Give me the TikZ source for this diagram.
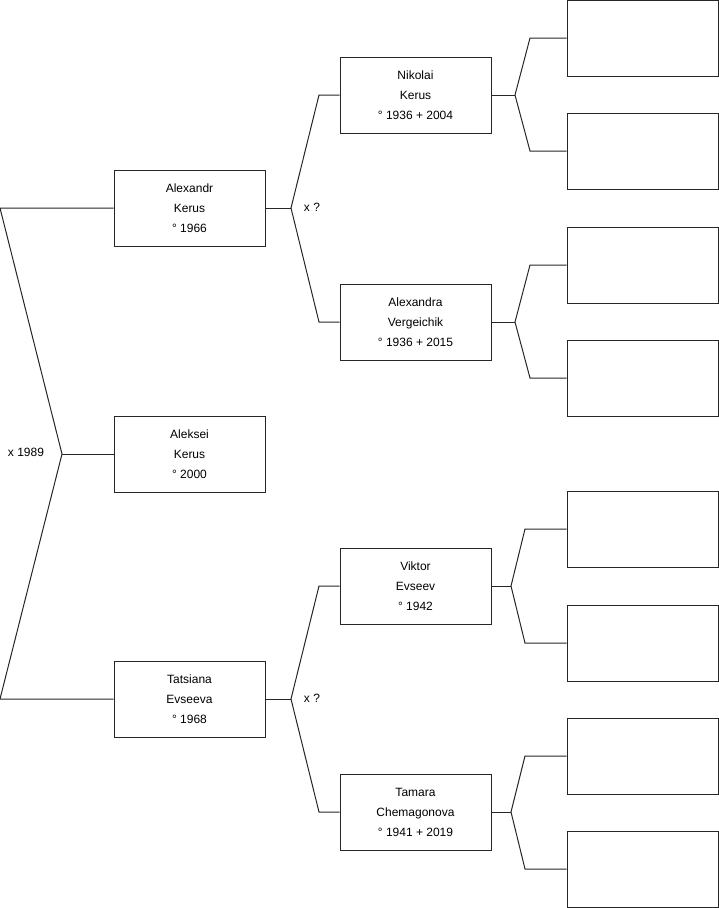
\documentclass[tikz,border=0pt]{standalone}
\usepackage{fontspec}
\setmainfont{Liberation Sans}
\usetikzlibrary{positioning, calc}

\begin{document}
\begin{tikzpicture}[
    x=1pt, y=-1pt,
    line width=1pt,
    font=\fontsize{12}{20}\selectfont,
    % Person Box Style
    person/.style={
        rectangle, draw=black!85, fill=white, text=black,
        minimum width=151pt, minimum height=76pt, inner sep=0pt, align=center
    },
    % Marriage Annotation Style
    marriage/.style={
        inner sep=0pt, text=black
    },
    % Connector Style
    link/.style={draw=black!85, line join=miter}
]
    \useasboundingbox (0,0) rectangle (719,908);

    % =========================================================================
    % Generation 1: Children
    % =========================================================================
    \node[person] (alexandr) at (189.5, 208) {Alexandr\\Kerus\\° 1966};
    \node[person] (aleksei)  at (189.5, 454) {Aleksei\\Kerus\\° 2000};
    \node[person] (tatsiana) at (189.5, 699) {Tatsiana\\Evseeva\\° 1968};

    % =========================================================================
    % Generation 2: Parents
    % =========================================================================
    \node[person] (nikolai)   at (415.5, 95)  {Nikolai\\Kerus\\° 1936 + 2004};
    \node[person] (alexandra) at (415.5, 322) {Alexandra\\Vergeichik\\° 1936 + 2015};
    \node[person] (viktor)    at (415.5, 586) {Viktor\\Evseev\\° 1942};
    \node[person] (tamara)    at (415.5, 812) {Tamara\\Chemagonova\\° 1941 + 2019};

    % =========================================================================
    % Generation 3: Empty Grandparent Slots
    % =========================================================================
    \node[person] (g1) at (642.5, 38)  {};
    \node[person] (g2) at (642.5, 151) {};
    \node[person] (g3) at (642.5, 265) {};
    \node[person] (g4) at (642.5, 378) {};
    \node[person] (g5) at (642.5, 529) {};
    \node[person] (g6) at (642.5, 643) {};
    \node[person] (g7) at (642.5, 756) {};
    \node[person] (g8) at (642.5, 869) {};

    % =========================================================================
    % Junction Points
    % =========================================================================
    \coordinate (rootTop) at (0, 208);
    \coordinate (rootMid) at (62, 454);
    \coordinate (rootBot) at (0, 699);

    \coordinate (jKerus)   at (291, 208);
    \coordinate (jEvseev)  at (291, 699);

    \coordinate (jNikolai)   at (515, 95);
    \coordinate (jAlexandra) at (515, 322);
    \coordinate (jViktor)    at (511, 586);
    \coordinate (jTamara)    at (511, 812);

    % =========================================================================
    % Connectors: Children
    % =========================================================================
    \draw[link] (alexandr.west) -- (rootTop) -- (rootMid) -- (rootBot) -- (tatsiana.west);
    \draw[link] (rootMid) -- (aleksei.west);
    \node[marriage] (m1989) at (26, 452) {x 1989};

    % =========================================================================
    % Connectors: Parents
    % =========================================================================
    \draw[link] (alexandr.east) -- (jKerus);
    \draw[link] (nikolai.west) -- (319, 95) -- (jKerus) -- (319, 322) -- (alexandra.west);
    \node[marriage] (mKerus) at (312, 207) {x ?};

    \draw[link] (tatsiana.east) -- (jEvseev);
    \draw[link] (viktor.west) -- (319, 586) -- (jEvseev) -- (319, 812) -- (tamara.west);
    \node[marriage] (mEvseev) at (312, 698) {x ?};

    % =========================================================================
    % Connectors: Grandparents
    % =========================================================================
    \draw[link] (nikolai.east) -- (jNikolai);
    \draw[link] (g1.west) -- (530, 38) -- (jNikolai) -- (530, 151) -- (g2.west);

    \draw[link] (alexandra.east) -- (jAlexandra);
    \draw[link] (g3.west) -- (530, 265) -- (jAlexandra) -- (530, 378) -- (g4.west);

    \draw[link] (viktor.east) -- (jViktor);
    \draw[link] (g5.west) -- (525, 529) -- (jViktor) -- (525, 643) -- (g6.west);

    \draw[link] (tamara.east) -- (jTamara);
    \draw[link] (g7.west) -- (525, 756) -- (jTamara) -- (525, 869) -- (g8.west);

\end{tikzpicture}
\end{document}
